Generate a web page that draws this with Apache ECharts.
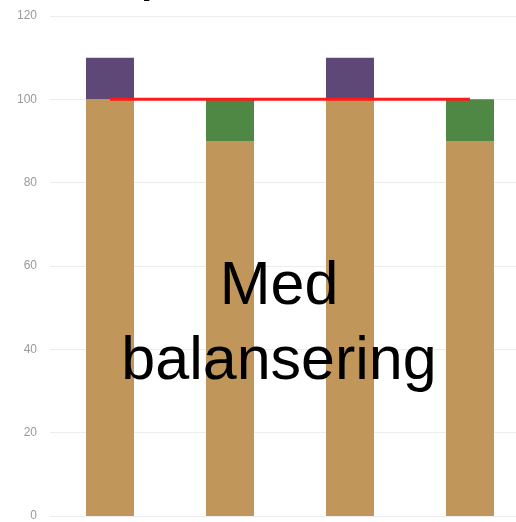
<!DOCTYPE html>
<html>
<head>
<meta charset="utf-8">
<style>html,body{margin:0;padding:0;background:#fff;}#c{width:516px;height:522px;}</style>
<script src="https://cdn.jsdelivr.net/npm/echarts@6/dist/echarts.min.js"></script>
</head>
<body>
<div id="c"></div>
<script>
var categories = ['A', 'B', 'C', 'D'];
var baseValues = [100, 90, 100, 90];
var purpleValues = [10, '-', 10, '-'];
var greenValues = ['-', 10, '-', 10];
var targetLine = [100, 100, 100, 100];
var yTicks = [0, 20, 40, 60, 80, 100, 120];
var overlayText = 'Med\nbalansering';
var clippedTitle = 'p';

var chart = echarts.init(document.getElementById('c'), null, {renderer: 'canvas'});
chart.setOption({
  animation: false,
  grid: {left: 50, width: 480, top: 16, bottom: 6, containLabel: false, outerBoundsMode: 'none'},
  xAxis: {
    type: 'category', data: categories,
    axisLine: {show: false}, axisTick: {show: false}, axisLabel: {show: false}
  },
  yAxis: {
    type: 'value', min: yTicks[0], max: yTicks[yTicks.length - 1], interval: 20,
    axisLine: {show: false}, axisTick: {show: false},
    axisLabel: {color: '#9a9a9a', fontSize: 12, fontFamily: 'Liberation Sans, Arial, sans-serif', margin: 13},
    splitLine: {lineStyle: {color: '#ececec', width: 1}}
  },
  series: [
    {type: 'bar', stack: 's', data: baseValues, barWidth: 48, itemStyle: {color: '#c1965b'}},
    {type: 'bar', stack: 's', data: purpleValues, barWidth: 48, itemStyle: {color: '#5e4878'}},
    {type: 'bar', stack: 's', data: greenValues, barWidth: 48, itemStyle: {color: '#4f8745'}},
    {type: 'line', data: targetLine, symbol: 'none', z: 5, lineStyle: {color: '#ff1a1a', width: 3}}
  ],
  graphic: [{
    type: 'text', z: 100,
    x: 279, y: 250,
    style: {
      text: overlayText, fill: '#000', fontSize: 61, lineHeight: 75,
      fontFamily: 'Liberation Sans, Arial, sans-serif',
      align: 'center', verticalAlign: 'top'
    }
  }, {
    type: 'text', z: 100,
    x: 140, y: -58,
    style: {
      text: clippedTitle, fill: '#000', fontSize: 60, lineHeight: 60,
      fontFamily: 'Liberation Sans, Arial, sans-serif',
      align: 'left', verticalAlign: 'top'
    }
  }]
});
</script>
</body>
</html>
